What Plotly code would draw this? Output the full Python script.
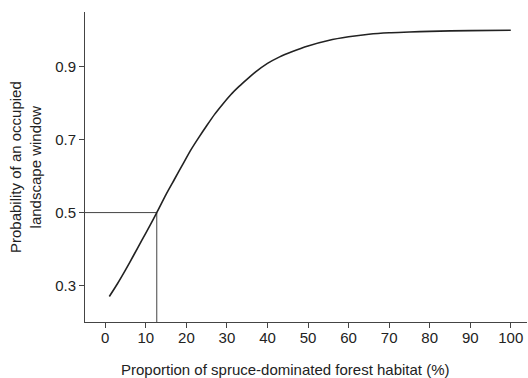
import plotly.graph_objects as go

# Curve values
habitat_pct = [1, 3, 5, 7, 9, 11, 12.7, 15, 17, 19, 21, 23, 25, 27, 29, 31, 33, 35, 37,
               40, 43, 46, 50, 55, 60, 65, 70, 75, 80, 90, 100]
prob_occupied = [0.27, 0.305, 0.343, 0.383, 0.424, 0.464, 0.50, 0.55, 0.59, 0.63, 0.67,
                 0.705, 0.738, 0.77, 0.798, 0.824, 0.846, 0.866, 0.885, 0.909, 0.927,
                 0.941, 0.957, 0.972, 0.982, 0.989, 0.993, 0.995, 0.997, 0.999, 1.0]

# Reference lines at p = 0.5
ref_x = 12.7
ref_y = 0.5
x_min, x_max = -5, 104
y_min, y_max = 0.2, 1.05

x_ticks = [0, 10, 20, 30, 40, 50, 60, 70, 80, 90, 100]
y_ticks = [0.3, 0.5, 0.7, 0.9]
y_tick_labels = ["0.3", "0.5", "0.7", "0.9"]

ink = "#222222"
font_family = "Liberation Sans, Arial, sans-serif"

fig = go.Figure()
fig.add_trace(go.Scatter(x=[x_min, ref_x, ref_x], y=[ref_y, ref_y, y_min], mode="lines",
                         line=dict(color="#444444", width=1), hoverinfo="skip"))
fig.add_trace(go.Scatter(x=habitat_pct, y=prob_occupied, mode="lines",
                         line=dict(color=ink, width=1.6, shape="spline", smoothing=0.6)))

fig.update_layout(
    width=528, height=378,
    margin=dict(l=85, r=1, t=12, b=56),
    paper_bgcolor="white", plot_bgcolor="white",
    showlegend=False,
    font=dict(family=font_family, size=15, color=ink),
    xaxis=dict(range=[x_min, x_max], tickvals=x_ticks, showgrid=False, zeroline=False,
               showline=True, linecolor="#444444", linewidth=1,
               ticks="outside", ticklen=5, tickcolor="#444444", tickwidth=1,
               ticklabelstandoff=-3,
               tickfont=dict(size=15, color=ink)),
    yaxis=dict(range=[y_min, y_max], tickvals=y_ticks, ticktext=y_tick_labels,
               showgrid=False, zeroline=False,
               showline=True, linecolor="#444444", linewidth=1,
               ticks="outside", ticklen=5, tickcolor="#444444", tickwidth=1,
               tickfont=dict(size=15, color=ink)),
    annotations=[
        dict(text="Proportion of spruce-dominated forest habitat (%)",
             xref="paper", yref="paper", x=(285 - 85) / (527 - 85), y=0,
             xanchor="center", yanchor="middle",
             showarrow=False, font=dict(size=15, color=ink), yshift=-47),
        dict(text="Probability of an occupied<br>landscape window",
             xref="paper", yref="paper", x=0, y=0.5, xanchor="center", yanchor="middle",
             textangle=-90, showarrow=False, font=dict(size=15, color=ink),
             xshift=-60),
    ],
)

fig.write_html("out.html", config={"displayModeBar": False},
               post_script="document.body.style.margin='0';")
